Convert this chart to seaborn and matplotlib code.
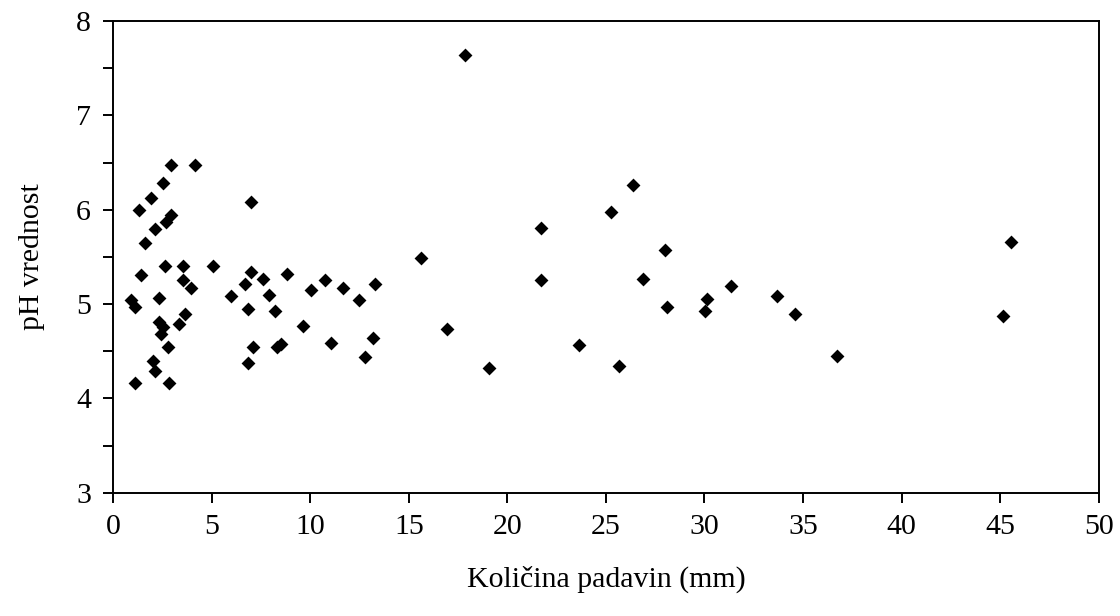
import matplotlib
matplotlib.use('Agg')
import matplotlib.pyplot as plt
import seaborn as sns
import pandas as pd
from matplotlib.ticker import MultipleLocator

# Količina padavin (mm) i pH vrednost, očitano sa grafika
padavine = [
    0.91, 1.13, 1.13, 1.30, 1.40, 1.61, 1.91, 2.01, 2.13, 2.11,
    2.32, 2.32, 2.54, 2.42, 2.54, 2.64, 2.66, 2.76, 2.82, 2.93,
    2.93, 3.33, 3.55, 3.55, 3.94, 3.65, 4.16, 5.07, 5.98, 6.69,
    6.82, 6.82, 6.98, 6.98, 7.10, 7.59, 7.90, 8.22, 8.29, 8.54,
    8.81, 9.64, 10.04, 10.74, 11.04, 11.65, 12.47, 12.76, 13.18, 13.27,
    15.61, 16.94, 17.87, 19.08, 21.69, 21.69, 23.63, 25.26, 25.68, 26.38,
    26.87, 27.99, 28.10, 30.01, 30.13, 31.34, 33.67, 34.58, 36.72, 45.14,
    45.53,
]
ph = [
    5.04, 4.97, 4.16, 6.00, 5.31, 5.65, 6.12, 4.40, 4.29, 5.80,
    5.06, 4.81, 4.76, 4.68, 6.28, 5.40, 5.87, 4.55, 4.16, 5.94,
    6.47, 4.79, 5.40, 5.26, 5.17, 4.89, 6.47, 5.40, 5.09, 5.21,
    4.95, 4.38, 6.08, 5.34, 4.55, 5.27, 5.10, 4.93, 4.55, 4.58,
    5.32, 4.77, 5.15, 5.26, 4.59, 5.17, 5.04, 4.44, 4.64, 5.21,
    5.49, 4.74, 7.64, 4.32, 5.81, 5.255, 4.57, 5.98, 4.34, 6.26,
    5.27, 5.57, 4.97, 4.93, 5.05, 5.19, 5.085, 4.89, 4.45, 4.87,
    5.66,
]

df = pd.DataFrame({'padavine': padavine, 'ph': ph})

sns.set_style('ticks')
plt.rcParams['font.family'] = ['Liberation Serif', 'DejaVu Serif']
plt.rcParams['text.color'] = 'black'
plt.rcParams['axes.labelcolor'] = 'black'
plt.rcParams['xtick.color'] = 'black'
plt.rcParams['ytick.color'] = 'black'

fig = plt.figure(figsize=(11.2, 6.16), dpi=100)
ax = fig.add_axes([0.101, 0.200, 0.880, 0.766])

sns.scatterplot(data=df, x='padavine', y='ph', marker='D', color='black',
                s=50, linewidth=0, ax=ax)

ax.set_xlim(0, 50)
ax.set_ylim(3, 8)
ax.xaxis.set_major_locator(MultipleLocator(5))
ax.yaxis.set_major_locator(MultipleLocator(1))
ax.yaxis.set_minor_locator(MultipleLocator(0.5))

for side in ['left', 'right', 'top', 'bottom']:
    ax.spines[side].set_visible(True)
    ax.spines[side].set_linewidth(1.4)
    ax.spines[side].set_color('black')

ax.tick_params(axis='both', which='both', direction='out', length=7,
               width=1.4, color='black', labelcolor='black', labelsize=21.5)
ax.tick_params(axis='x', pad=8)
ax.tick_params(axis='y', pad=9)

ax.set_xlabel('Količina padavin (mm)', fontsize=21.5, labelpad=19)
ax.set_ylabel('pH vrednost', fontsize=21.5, labelpad=22)

plt.savefig('out.png', dpi=100)
